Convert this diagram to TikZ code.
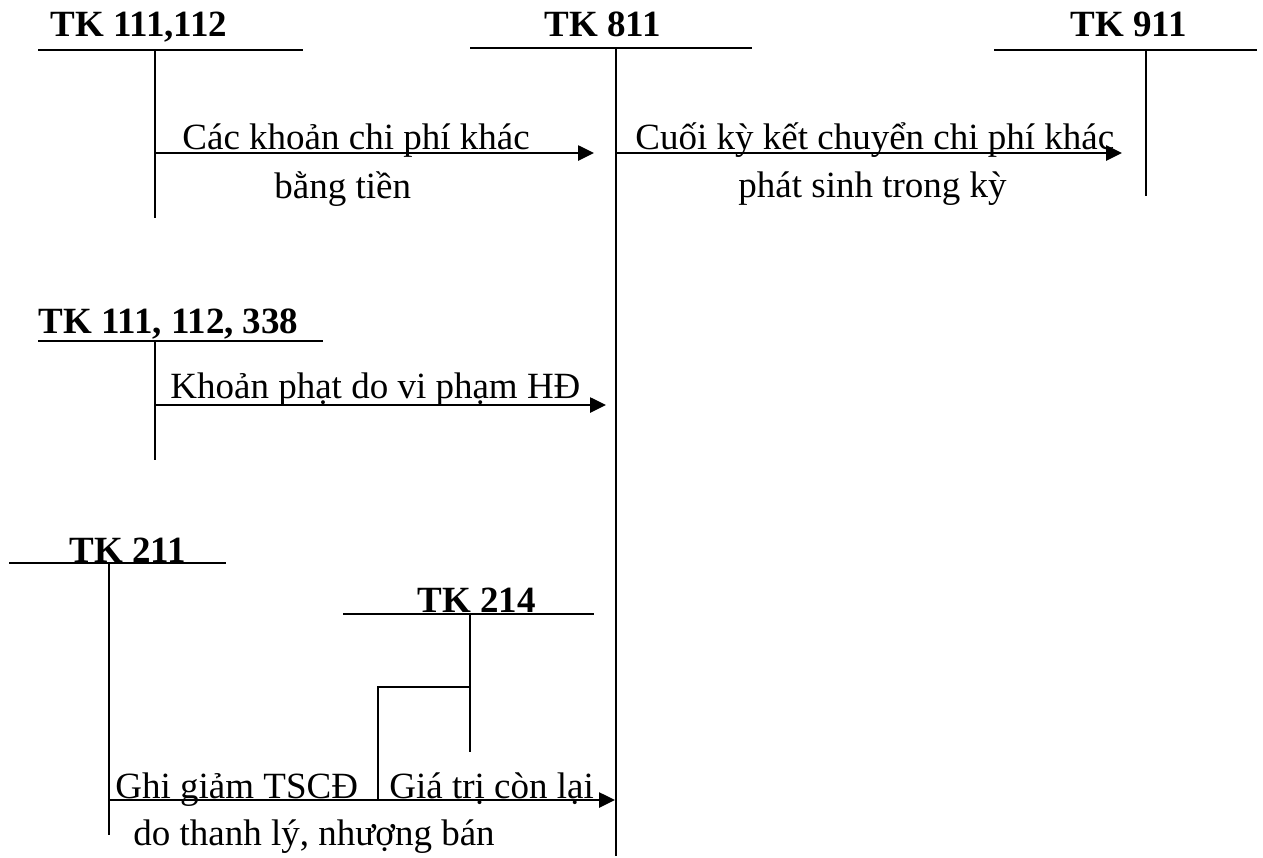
\documentclass[tikz,border=0pt]{standalone}
\usepackage{fontspec}
\setmainfont{Liberation Serif}
\usetikzlibrary{arrows.meta}
\begin{document}
\begin{tikzpicture}[x=0.5pt,y=-0.5pt,
  tline/.style={line width=1.3pt},
  flow/.style={line width=1.3pt,-{Triangle[length=8pt,width=7.5pt]}},
  head/.style={font=\fontsize{18.5}{22}\selectfont\bfseries,anchor=base west,inner sep=0pt},
  lbl/.style={font=\fontsize{18.5}{22}\selectfont,anchor=base west,inner sep=0pt}]
\useasboundingbox (0,0) rectangle (1263,857);

% ---- TK 111,112 ----
\node[head] (h1) at (50,36) {TK 111,112};
\coordinate (a1l) at (38,50);   \coordinate (a1r) at (303,50);
\coordinate (a1t) at (155,50);  \coordinate (a1b) at (155,218);
\draw[tline] (a1l) -- (a1r);
\draw[tline] (a1t) -- (a1b);

% ---- TK 811 ----
\node[head] (h2) at (544,36) {TK 811};
\coordinate (a2l) at (470,48);  \coordinate (a2r) at (752,48);
\coordinate (a2t) at (616,48);  \coordinate (a2b) at (616,856);
\draw[tline] (a2l) -- (a2r);
\draw[tline] (a2t) -- (a2b);

% ---- TK 911 ----
\node[head] (h3) at (1070,36) {TK 911};
\coordinate (a3l) at (994,50);  \coordinate (a3r) at (1257,50);
\coordinate (a3t) at (1146,50); \coordinate (a3b) at (1146,196);
\draw[tline] (a3l) -- (a3r);
\draw[tline] (a3t) -- (a3b);

% arrow 1
\coordinate (s1) at (155,153); \coordinate (e1) at (594,153);
\draw[flow] (s1) -- (e1);
\node[lbl] (t1) at (182,149) {Các khoản chi phí khác};
\node[lbl] (t1b) at (274,198) {bằng tiền};

% arrow 2
\coordinate (s2) at (616,153); \coordinate (e2) at (1122,153);
\draw[flow] (s2) -- (e2);
\node[lbl] (t2) at (635,149) {Cuối kỳ kết chuyển chi phí khác};
\node[lbl] (t2b) at (738,197) {phát sinh trong kỳ};

% ---- TK 111, 112, 338 ----
\node[head] (h4) at (38,333) {TK 111, 112, 338};
\coordinate (a4l) at (38,341);  \coordinate (a4r) at (323,341);
\coordinate (a4t) at (155,341); \coordinate (a4b) at (155,460);
\draw[tline] (a4l) -- (a4r);
\draw[tline] (a4t) -- (a4b);
\coordinate (s3) at (155,405); \coordinate (e3) at (606,405);
\draw[flow] (s3) -- (e3);
\node[lbl] (t3) at (170,398) {Khoản phạt do vi phạm HĐ};

% ---- TK 211 ----
\node[head] (h5) at (69,562) {TK 211};
\coordinate (a5l) at (9,563);   \coordinate (a5r) at (226,563);
\coordinate (a5t) at (109,563); \coordinate (a5b) at (109,835);
\draw[tline] (a5l) -- (a5r);
\draw[tline] (a5t) -- (a5b);

% ---- TK 214 ----
\node[head] (h6) at (417,612) {TK 214};
\coordinate (a6l) at (343,614); \coordinate (a6r) at (594,614);
\coordinate (a6t) at (470,614); \coordinate (a6b) at (470,752);
\draw[tline] (a6l) -- (a6r);
\draw[tline] (a6t) -- (a6b);
\coordinate (k1) at (470,687); \coordinate (k2) at (378,687); \coordinate (k3) at (378,800);
\draw[tline] (k1) -- (k2) -- (k3);

% arrow 4
\coordinate (s4) at (109,800); \coordinate (e4) at (615,800);
\draw[flow] (s4) -- (e4);
\node[lbl] (t4) at (115,798) {Ghi giảm TSCĐ};
\node[lbl] (t5) at (389,798) {Giá trị còn lại};
\node[lbl] (t4b) at (133,845) {do thanh lý, nhượng bán};
\end{tikzpicture}
\end{document}
